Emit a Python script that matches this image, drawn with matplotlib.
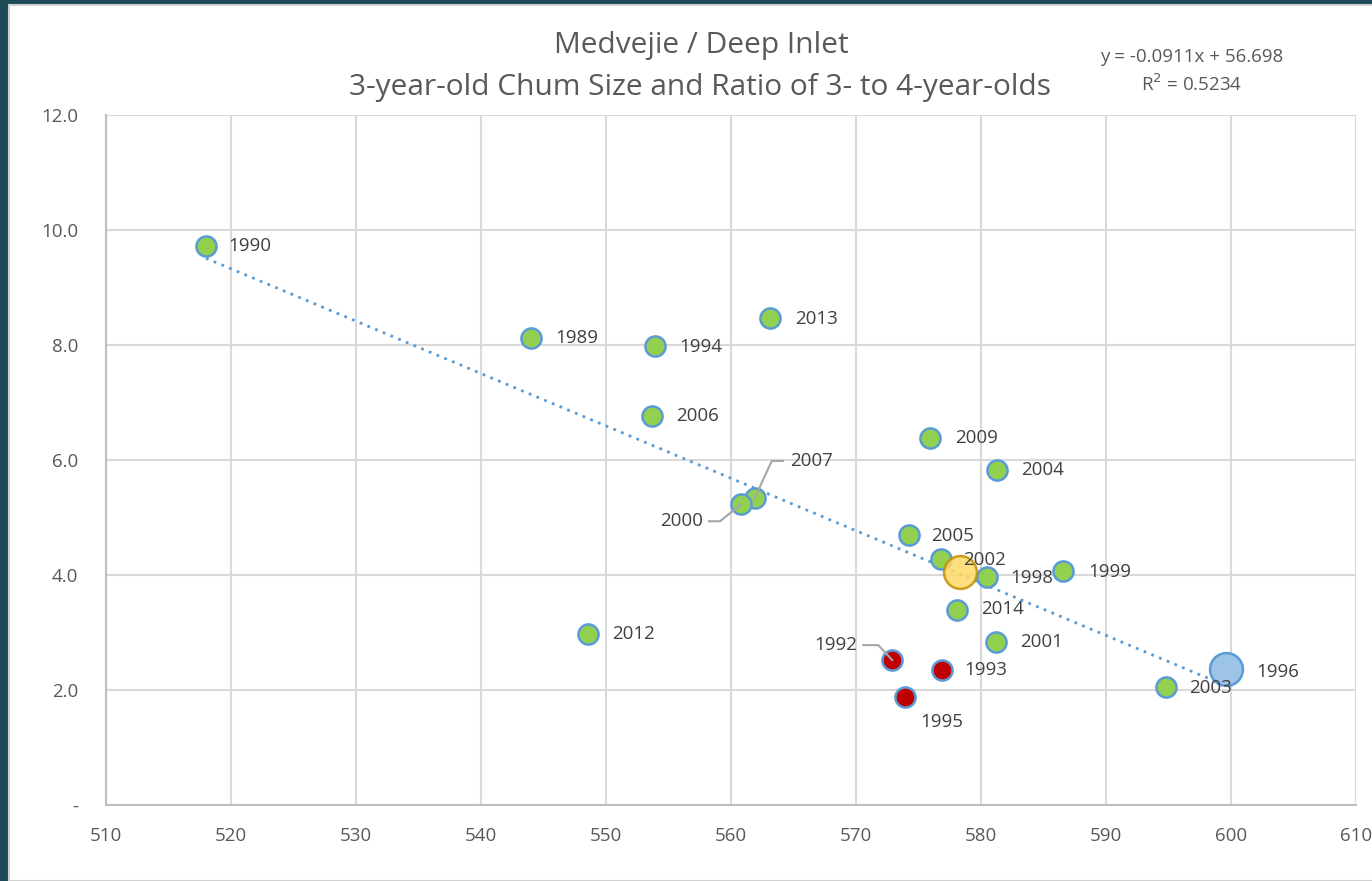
import numpy as np
import matplotlib.pyplot as plt
from matplotlib.patches import Rectangle

# chum data: 3-yr-old size (mm) vs ratio of 3- to 4-year-olds
years_g = ['1990', '1989', '1994', '2013', '2006', '2009', '2004', '2007', '2000',
           '2005', '2002', '1998', '1999', '2014', '2001', '2012', '2003']
size_g = [518.0, 544.0, 553.9, 563.1, 553.7, 575.9, 581.3, 561.9, 560.8,
          574.2, 576.8, 580.5, 586.6, 578.1, 581.2, 548.6, 594.8]
ratio_g = [9.72, 8.12, 7.98, 8.47, 6.77, 6.38, 5.83, 5.34, 5.23,
           4.70, 4.27, 3.97, 4.07, 3.40, 2.84, 2.97, 2.06]

years_r = ['1992', '1993', '1995']
size_r = [572.9, 576.9, 573.9]
ratio_r = [2.52, 2.35, 1.88]

years_b = ['1996']
size_b = [599.6]
ratio_b = [2.37]

size_y = [578.3]
ratio_y = [4.06]

slope, intercept, r2 = -0.0911, 56.698, 0.5234

# label offsets in pixels (dx, dy, ha)
offs = {'1990': (22, 0, 'left'), '1989': (24, 0, 'left'), '1994': (25, -1, 'left'),
        '2013': (25, -1, 'left'), '2006': (24, 0, 'left'), '2009': (25, 0, 'left'),
        '2004': (24, 0, 'left'), '2007': (35, 37, 'left'), '2000': (-38, -17, 'right'),
        '2005': (23, -1, 'left'), '2002': (22, -1, 'left'), '1998': (23, -1, 'left'),
        '1999': (25, -1, 'left'), '2014': (24, 0, 'left'), '2001': (24, 0, 'left'),
        '2012': (24, 0, 'left'), '2003': (23, -1, 'left'), '1992': (-35, 15, 'right'),
        '1993': (22, 0, 'left'), '1995': (16, -25, 'left'), '1996': (30, -3, 'left')}
leaders = {'2007': [(0, 0), (17, 37), (28, 37)],
           '2000': [(0, 0), (-21, -17), (-32, -17)],
           '1992': [(0, 0), (-14, 15), (-29, 15)]}

plt.rcParams['font.family'] = ['Open Sans', 'DejaVu Sans']

fig = plt.figure(figsize=(13.72, 8.81), dpi=100, facecolor='#1d4a57')
fig.patches.append(Rectangle((9 / 1372, 0), 1, 1 - 5 / 881, transform=fig.transFigure,
                             facecolor='white', edgecolor='#d0d0d0', lw=1.5, zorder=-5))
ax = fig.add_axes([106 / 1372, 1 - 805 / 881, 1250 / 1372, 690 / 881])
ax.set_facecolor('white')

ax.set_xlim(510, 610)
ax.set_ylim(0, 12)
ax.set_xticks(np.arange(510, 611, 10))
ax.set_yticks(np.arange(0, 12.1, 2))
ax.set_yticklabels(['-'] + ['%.1f' % v for v in np.arange(2, 12.1, 2)])
ax.grid(True, color='#d9d9d9', lw=1.5, zorder=0)
ax.set_axisbelow(True)
for s in ['top', 'right']:
    ax.spines[s].set_visible(False)
for s in ['left', 'bottom']:
    ax.spines[s].set_color('#bfbfbf')
    ax.spines[s].set_linewidth(1.5)
ax.tick_params(length=0, labelsize=13.5, labelcolor='#595959', pad=16)
ax.tick_params(axis='y', pad=20)

# trend line
all_x = size_g + size_r + size_b
tx = np.array([min(all_x), max(all_x)])
ax.plot(tx, slope * tx + intercept, ls=(0, (1, 2)), color='#5b9bd5', lw=2, zorder=2)

ax.scatter(size_g, ratio_g, s=210, c='#92d050', edgecolors='#5b9bd5', linewidths=1.8, zorder=3)
ax.scatter(size_r, ratio_r, s=210, c='#c00000', edgecolors='#5b9bd5', linewidths=1.8, zorder=3)
ax.scatter(size_b, ratio_b, s=560, c='#9dc3e6', edgecolors='#5b9bd5', linewidths=1.8, zorder=3)
ax.scatter(size_y, ratio_y, s=560, c='#ffd966', edgecolors='#bf9000', linewidths=1.8,
           alpha=0.85, zorder=4)

for yrs, xs, ys in [(years_g, size_g, ratio_g), (years_r, size_r, ratio_r),
                    (years_b, size_b, ratio_b)]:
    for yr, x, y in zip(yrs, xs, ys):
        dx, dy, ha = offs[yr]
        ax.annotate(yr, (x, y), xytext=(dx, dy), textcoords='offset pixels',
                    ha=ha, va='center', fontsize=13.5, color='#404040', zorder=5)
        if yr in leaders:
            pts = [ax.transData.transform((x, y)) + np.array(p) for p in leaders[yr]]
            pts = np.array(pts)
            ax.plot(pts[:, 0], pts[:, 1], color='#a6a6a6', lw=1.5, transform=None, zorder=5)

fig.text(0.511, 1 - 45 / 881, 'Medvejie / Deep Inlet', ha='center', va='center',
         fontsize=21.5, color='#595959')
fig.text(0.510, 1 - 87 / 881, '3-year-old Chum Size and Ratio of 3- to 4-year-olds',
         ha='center', va='center', fontsize=21.5, color='#595959')
fig.text(1192 / 1372, 1 - 57 / 881, 'y = %.4fx + %.3f' % (slope, intercept),
         ha='center', va='center', fontsize=13.5, color='#595959')
fig.text(1192 / 1372, 1 - 84 / 881, 'R$^2$ = %.4f' % r2,
         ha='center', va='center', fontsize=13.5, color='#595959')

fig.savefig('out.png', dpi=100, facecolor=fig.get_facecolor())
